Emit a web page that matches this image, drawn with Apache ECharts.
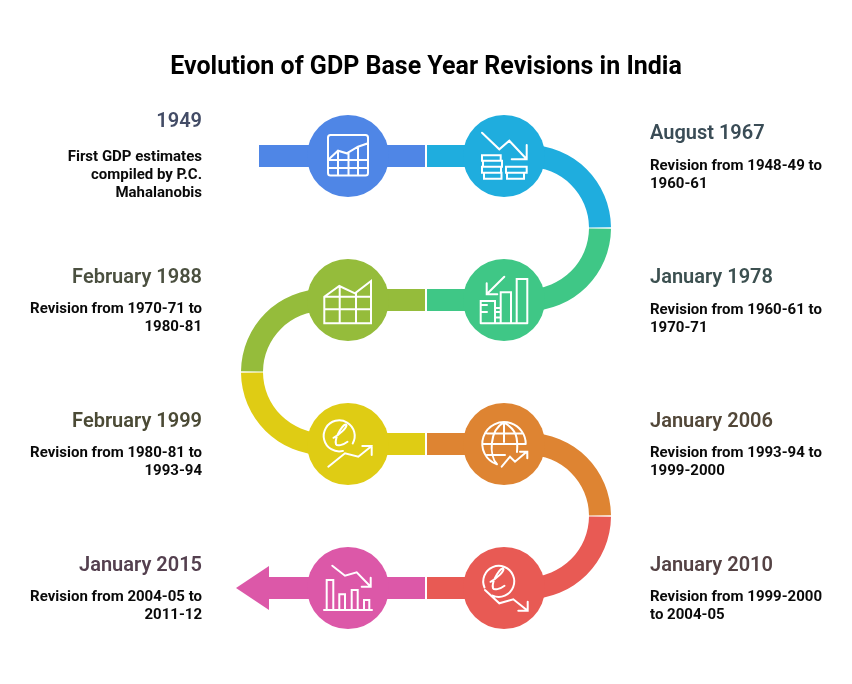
<!DOCTYPE html>
<html><head><meta charset="utf-8">
<style>html,body{margin:0;padding:0;background:#fff}#c{width:852px;height:684px}</style>
<script src="https://cdn.jsdelivr.net/npm/echarts@6/dist/echarts.min.js"></script>
</head><body><div id="c"></div>
<script>
const chartTitle = 'Evolution of GDP Base Year Revisions in India';
const years = ['1949','August 1967','January 1978','February 1988','February 1999','January 2006','January 2010','January 2015'];
const notes = [
 'First GDP estimates\ncompiled by P.C.\nMahalanobis',
 'Revision from 1948-49 to\n1960-61',
 'Revision from 1960-61 to\n1970-71',
 'Revision from 1970-71 to\n1980-81',
 'Revision from 1980-81 to\n1993-94',
 'Revision from 1993-94 to\n1999-2000',
 'Revision from 1999-2000\nto 2004-05',
 'Revision from 2004-05 to\n2011-12'];
const colors = ['#4F86E6','#1FADDE','#3FC786','#95BC3B','#DFCC14','#DE8432','#E85A54','#DC58A8'];
const yearColors = ['#434C66','#3A4C56','#3C5050','#4B5040','#4B4A35','#524738','#544244','#54404F'];
const nodeX = [348,504,504,348,348,504,504,348];
const nodeY = [156,156,300,300,444,444,588,588];
const iconX = [348,505,505,348,348,505,505,348];
const textX = [202,650,650,202,202,650,650,202];
const yearY = [122,134,278,278,422,422,566,566];
const noteY = [157,166,310,309,453,453,597,597];
const textAlign = ['right','left','left','right','right','left','left','right'];
// ribbon pieces: [x0, x1, y, colour index]
const ribbonBars = [[259,425,156,0],[427,528,156,1],[427,528,300,2],[324,425,300,3],[324,425,444,4],[427,528,444,5],[427,528,588,6],[269,425,588,7]];
// ribbon bends: [cx, cy, start deg, end deg, colour index]
const ribbonArcs = [[528,228,-90,-0.5,1],[528,228,0.5,90,2],[324,372,180.5,270,3],[324,372,90,179.5,4],[528,516,-90,-0.5,5],[528,516,0.5,90,6]];
const arrowHead = [[236,269,588,7]];
const ribbonWidth = 22, bendRadius = 72, arrowHalf = 22;
const ell = (cx,cy)=>`M${cx-6.5} ${cy+1.5}C${cx} ${cy-2} ${cx+6} ${cy-8} ${cx+6.5} ${cy-11}C${cx+6} ${cy-13} ${cx+3} ${cy-11} ${cx} ${cy-6}C${cx-3} ${cy-1} ${cx-5} ${cy+5} ${cx-4} ${cy+8}C${cx-3} ${cy+10} ${cx+3} ${cy+9} ${cx+7.5} ${cy+5.5}`;
const iconPaths = [
 'M-17.5 -21L17.5 -21A2.5 2.5 0 0 1 20 -18.5L20 17A2.5 2.5 0 0 1 17.5 19.5L-17.5 19.5A2.5 2.5 0 0 1 -20 17L-20 -18.5A2.5 2.5 0 0 1 -17.5 -21Z M-20 4L-10 -5.3L-1.3 -2.7L10 -9.3L20 -12.7 M-20 4L20 4 M-20 12L20 12 M-10 -5.3L-10 19.5 M0.5 -3L0.5 19.5 M10 -9.3L10 19.5',
 'M-23 -23.3L-5.7 -6.7L4.3 -15.3L21.7 3.3 M21.7 -11L21.7 3.3L6.7 3.3 M-23 -0.7L-4.3 -0.7L-4.3 4.7L-23 4.7Z M-22 4.7L-3 4.7L-3 10.7L-22 10.7Z M-23 10.7L-4 10.7L-4 16.7L-23 16.7Z M-21 16.7L-3.5 16.7L-3.5 22.7L-21 22.7Z M1 10.7L21.7 10.7L21.7 16.7L1 16.7Z M2 16.7L19 16.7L19 22.7L2 22.7Z',
 'M-24.3 23.3L22.3 23.3 M11.7 23.3L11.7 -21L22.3 -21L22.3 23.3 M-4.3 23.3L-4.3 -7.7L6 -7.7L6 23.3 M-24.3 23.3L-24.3 1L-10 1L-10 8L-4.3 8 M-24.3 5L-18 5 M-24.3 12L-18 12 M-10 1L-10 23.3 M-10 12L-4.3 12 M-10 17.5L-4.3 17.5 M-0.7 -23.3L-18.3 -5.7 M-18.3 -16.7L-18.3 -5.7L-7.7 -5.7',
 'M-23.7 23.3L-23.7 -3.3L-8.7 -14L7 -6.7L23 -19L23 23.3Z M-23.7 -3.3L23 -3.3 M-23.7 9.3L23 9.3 M-8.3 -14L-8.3 23.3 M8 -6.7L8 23.3',
 'M-5 6.9A15.5 15.5 0 1 1 4.7 -0.5 ' + ell(-8,-7.7) + ' M-19.7 22.7L-3 9.3L10.3 12.7L23.7 2 M14.3 2L23.7 2L23.7 11',
 'M-8 20.3A21.7 21.7 0 1 1 20.7 0 M-1 -21.7L-1 -2 M-1 -21.7C-16 -14 -16 12 -8 20.3 M-1 -21.7C12 -14 13 -6 12 8 M-18 -10.5L17 -10.5 M-22.7 0L20.7 0 M-18 11L0 11 M-3.3 22.7L5 12.7L10 17.7L21.7 7.7 M15 7.7L22.3 7.7L22.3 14.3',
 'M-20.5 -0.5A15.5 15.5 0 1 1 -12.5 7.6 ' + ell(-8,-7.7) + ' M-20 2L-5.7 15.3L8.3 11.3L22.7 22.7 M13.3 22.7L22.7 22.7L22.7 13.7',
 'M-24 22L24 22 M-21.3 22L-21.3 -8L-14.7 -8L-14.7 22 M-8.7 22L-8.7 6.3L-3 6.3L-3 22 M3.7 22L3.7 2L9.7 2L9.7 22 M16 22L16 12L21.3 12L21.3 22 M-15.7 -22.3L-3 -12.3L8.7 -15.7L22.7 -1.3 M13.7 -1.3L22.7 -1.3L22.7 -10.3'
];

const chart = echarts.init(document.getElementById('c'), null, {renderer:'canvas'});
const FONT = 'Roboto';
chart.setOption({
 animation:false,
 backgroundColor:'#fff',
 title:{text:chartTitle,left:'center',top:50,textStyle:{fontFamily:FONT,fontSize:25,fontWeight:700,color:'#000'}},
 grid:{left:0,right:0,top:0,bottom:0},
 xAxis:{type:'value',min:0,max:852,show:false},
 yAxis:{type:'value',min:0,max:684,inverse:true,show:false},
 series:[
  {type:'custom',silent:true,clip:false,z:1,data:ribbonBars,
   renderItem(p,api){
    const a=api.coord([api.value(0),api.value(2)]),b=api.coord([api.value(1),api.value(2)]);
    const h=api.size([0,ribbonWidth])[1];
    return {type:'rect',shape:{x:a[0],y:a[1]-h/2,width:b[0]-a[0],height:h},style:{fill:colors[api.value(3)]}};
   }},
  {type:'custom',silent:true,clip:false,z:1,data:ribbonArcs,
   renderItem(p,api){
    const c=api.coord([api.value(0),api.value(1)]);
    const s=api.size([bendRadius,0])[0],w=api.size([ribbonWidth,0])[0];
    return {type:'sector',shape:{cx:c[0],cy:c[1],r0:s-w/2,r:s+w/2,startAngle:api.value(2)*Math.PI/180,endAngle:api.value(3)*Math.PI/180,clockwise:true},style:{fill:colors[api.value(4)]}};
   }},
  {type:'custom',silent:true,clip:false,z:1,data:arrowHead,
   renderItem(p,api){
    const t=api.coord([api.value(0),api.value(2)]),b=api.coord([api.value(1),api.value(2)]);
    const h=api.size([0,arrowHalf])[1];
    return {type:'polygon',shape:{points:[t,[b[0],b[1]-h],[b[0],b[1]+h]]},style:{fill:colors[api.value(3)]}};
   }},
  {type:'scatter',silent:true,z:2,symbol:'circle',symbolSize:82,
   data:nodeX.map((x,i)=>({value:[x,nodeY[i]],itemStyle:{color:colors[i],opacity:1}}))},
  {type:'custom',silent:true,clip:false,z:3,data:iconX.map((x,i)=>[x,nodeY[i],i]),
   renderItem(p,api){
    const c=api.coord([api.value(0),api.value(1)]);
    return {type:'group',x:c[0],y:c[1],children:[{type:'path',shape:{pathData:iconPaths[api.value(2)]},
      style:{fill:'none',stroke:'#fff',lineWidth:2,lineJoin:'miter',lineCap:'round'}}]};
   }},
  {type:'custom',silent:true,clip:false,z:4,data:textX.map((x,i)=>[x,yearY[i],noteY[i],i]),
   renderItem(p,api){
    const i=api.value(3);
    const a=api.coord([api.value(0),api.value(1)]),b=api.coord([api.value(0),api.value(2)]);
    return {type:'group',children:[
     {type:'text',x:a[0],y:a[1],style:{text:years[i],fill:yearColors[i],font:`600 20px ${FONT}`,align:textAlign[i],verticalAlign:'middle'}},
     {type:'text',x:b[0],y:b[1]-9,style:{text:notes[i],fill:'#0a0a0a',font:`700 15px ${FONT}`,lineHeight:18,align:textAlign[i],verticalAlign:'top'}}
    ]};
   }}
 ]
});
</script></body></html>
